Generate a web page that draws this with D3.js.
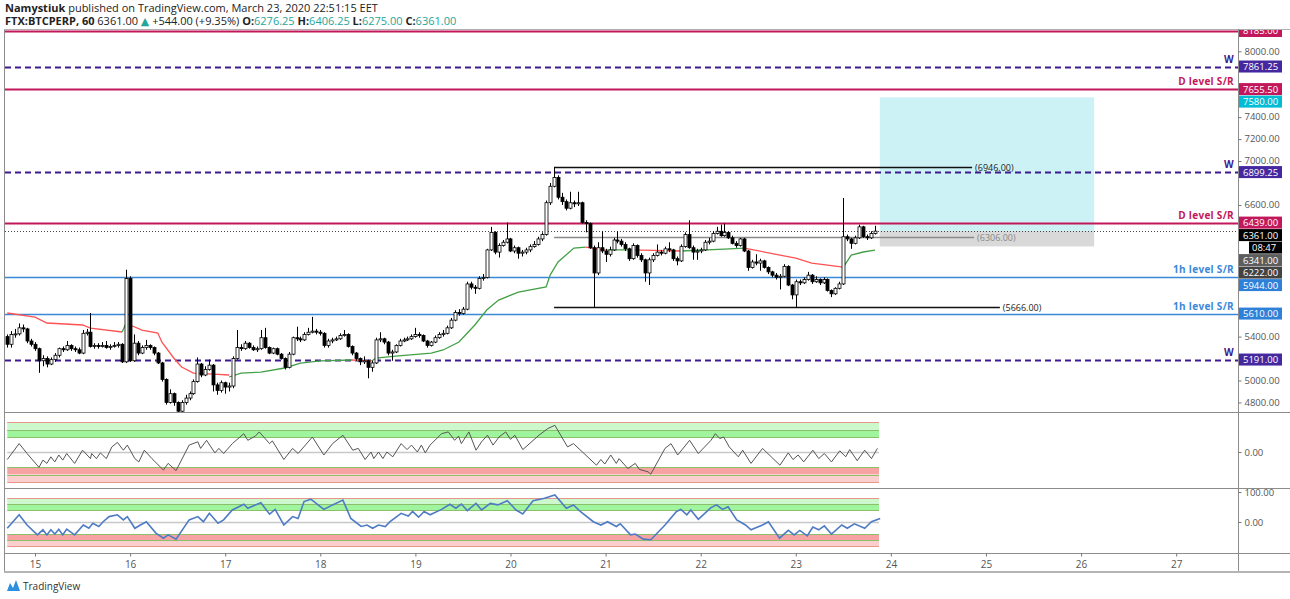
<!DOCTYPE html>
<html>
<head>
<meta charset="utf-8">
<script src="https://cdn.jsdelivr.net/npm/d3@7"></script>
<style>
  body { margin: 0; background: #fff; }
  text { font-family: "Open Sans", "DejaVu Sans", sans-serif; }
</style>
</head>
<body>
<div id="chart"></div>
<script>
// Hourly candles, FTX:BTCPERP, first bar Mar 14 17:00 (hour -7 relative to Mar 15 00:00)
const firstHour = -7
const firstOpen = 5400
const closes = [
  5330,5420,5425,5480,5470,5360,5330,
  5290,5180,5200,5150,5190,5230,5290,5280,5320,5290,
  5280,5250,5430,5440,5310,5320,5310,5320,5300,5310,
  5320,5330,5170,5930,5180,5340,5250,5300,5320,5300,
  5250,5160,5010,4800,4880,4800,4720,4800,4840,4880,
  4990,5150,5050,5100,5140,4960,4910,4980,4940,4950,
  5200,5300,5290,5340,5300,5280,5290,5390,5300,5250,
  5290,5240,5200,5120,5240,5390,5380,5370,5420,5440,
  5450,5440,5430,5320,5360,5370,5380,5410,5420,5310,
  5250,5200,5170,5180,5120,5160,5370,5380,5350,5250,
  5260,5320,5360,5370,5380,5400,5420,5410,5360,5320,
  5350,5390,5420,5430,5480,5550,5620,5610,5650,5880,
  5850,5840,5930,5940,6190,6350,6170,6230,6260,6290,
  6180,6210,6160,6170,6190,6220,6240,6290,6330,6620,
  6770,6850,6670,6630,6570,6620,6610,6620,6440,6430,
  6210,5980,6210,6180,6150,6190,6280,6270,6240,6200,
  6110,6230,6140,6100,5980,6100,6140,6170,6160,6200,
  6190,6110,6090,6220,6330,6210,6170,6180,6190,6260,
  6270,6340,6360,6320,6350,6300,6250,6230,6290,6180,
  6030,6080,6070,6090,6030,5990,5960,5940,5950,6040,
  5870,5780,5900,5890,5920,5960,5900,5920,5890,5920,
  5820,5790,5840,5880,6310,6290,6250,6300,6400,6310,
  6300,6340,6361
]
const highs = [
  5420,5450,5470,5520,5510,5480,5380,
  5350,5300,5230,5220,5210,5250,5300,5310,5360,5330,
  5310,5300,5460,5470,5615,5340,5340,5350,5360,5330,
  5350,5350,5340,6010,5950,5420,5360,5320,5370,5330,
  5310,5260,5170,5020,4920,4890,4810,4820,4870,4900,
  5010,5210,5160,5130,5190,5150,4980,5000,4990,4980,
  5220,5460,5330,5360,5350,5320,5310,5460,5480,5310,
  5300,5300,5250,5210,5260,5400,5490,5400,5440,5480,
  5580,5470,5460,5440,5380,5390,5400,5430,5460,5430,
  5320,5260,5210,5220,5190,5180,5390,5440,5390,5360,
  5280,5330,5380,5390,5400,5420,5480,5440,5420,5370,
  5360,5410,5440,5460,5500,5570,5640,5650,5670,5900,
  5900,5870,5950,5970,6200,6400,6360,6250,6280,6440,
  6300,6230,6220,6190,6210,6240,6270,6310,6350,6640,
  6800,6946,6870,6710,6650,6720,6640,6720,6630,6460,
  6440,6230,6260,6360,6200,6220,6300,6360,6290,6260,
  6210,6250,6240,6160,6110,6120,6160,6240,6190,6220,
  6260,6200,6130,6240,6350,6460,6230,6200,6210,6280,
  6300,6360,6400,6420,6430,6360,6320,6270,6300,6300,
  6190,6100,6150,6110,6100,6040,6000,5980,5970,6060,
  6050,5880,5920,5920,5940,5990,5970,5950,5930,5940,
  5930,5830,5850,5900,6663,6330,6300,6320,6420,6410,
  6330,6360,6410
]
const lows = [
  5300,5300,5390,5410,5440,5340,5310,
  5270,5070,5130,5120,5140,5170,5210,5260,5270,5270,
  5260,5240,5240,5410,5300,5290,5290,5300,5290,5280,
  5300,5300,5160,5160,5170,5170,5230,5240,5280,5280,
  5230,5150,4990,4780,4790,4770,4690,4700,4780,4820,
  4870,4980,5030,5040,5090,4900,4870,4890,4880,4900,
  4930,5190,5270,5280,5290,5270,5260,5280,5290,5240,
  5240,5230,5190,5100,5110,5230,5360,5350,5360,5410,
  5430,5420,5410,5300,5300,5340,5360,5370,5400,5300,
  5230,5180,5140,5150,5020,5080,5150,5350,5330,5230,
  5180,5250,5310,5350,5360,5370,5390,5390,5350,5300,
  5310,5340,5380,5400,5420,5470,5540,5590,5600,5640,
  5830,5790,5830,5910,5930,6180,6150,6120,6220,6250,
  6170,6160,6110,6130,6150,6170,6210,6230,6270,6320,
  6600,6760,6650,6600,6550,6560,6580,6590,6430,6350,
  6200,5666,5960,6160,6080,6130,6180,6250,6220,6180,
  6090,6100,6120,6080,5900,5870,6080,6130,6140,6150,
  6170,6090,6050,6080,6210,6200,6100,6100,6160,6180,
  6240,6260,6330,6310,6310,6290,6240,6210,6220,6170,
  6000,6020,6050,6000,6020,5970,5940,5920,5830,5940,
  5860,5740,5666,5870,5880,5910,5880,5890,5870,5880,
  5810,5760,5780,5830,5870,6270,6200,6240,6290,6300,
  6280,6290,6330
]

// Trailing stop line, [hour, price] vertices
const stRedSegs = [
  [[-7,5615],[0,5578],[3,5524],[12,5506],[14,5478],[22,5442]],
  [[24,5506],[27,5460],[31,5432],[32,5351],[35,5205],[37,5123],[40,5068],[45,5059],[49,5050]],
  [[80,5187],[85,5178]],
  [[139,6216],[142,6198],[144,6189]],
  [[150,6190],[156,6185],[163,6180]],
  [[179,6207],[188,6143],[192,6116],[196,6070],[204,6034]]
]
const stGreenSegs = [
  [[22,5442],[23,5524]],
  [[49,5032],[52,5068],[57,5077],[63,5114],[67,5159],[72,5178],[80,5187]],
  [[85,5178],[86,5205],[91,5223],[97,5241],[100,5250],[103,5278],[107,5351],[111,5506],[114,5642],[117,5733],[122,5806],[129,5852],[130,5961],[132,6080],[136,6207],[139,6216]],
  [[144,6189],[146,6190],[150,6190]],
  [[163,6180],[174,6198],[179,6207]],
  [[204,6034],[206,6143],[209,6171],[212,6189]]
]

// Oscillator 1 (grey) and oscillator 2 (blue), [hour, value]
const osc1Pts = [
  [-7,-25],[-4,28],[-2,-5],[1,-51],[2,-27],[3,-38],[4,-16],[5,-33],[6,-10],[7,-27],[8,-5],[10,-38],
  [12,6],[14,-22],[14.3,-5],[15.5,-22],[16.5,-3],[18,-22],[19.4,17],[20.8,32],[22.3,6],[23.3,23],
  [25.2,-22],[26.2,-33],[27.6,6],[29.5,-22],[32.4,-60],[33.6,-38],[35.6,-62],[38.9,23],[41.1,34],
  [41.8,12],[43.3,39],[45.4,-3],[46.4,12],[47.6,-5],[49.8,28],[52.7,61],[53.7,39],[55.6,53],
  [56.6,67],[59.2,28],[59.9,37],[62.8,-25],[65,12],[66.4,-5],[70,50],[72.9,-10],[75.1,28],[77.7,56],
  [80.2,6],[81.6,12],[83.3,-25],[84.8,0],[85.5,-22],[86.7,0],[87.8,-22],[88.8,0],[90.3,-16],
  [92.4,28],[93.9,8],[95,23],[96.5,0],[97.5,23],[98.5,-3],[99.7,23],[102.6,61],[104.3,67],[105.9,39],
  [106.9,53],[107.6,28],[109.5,67],[111.3,6],[112.7,34],[114.2,56],[115.6,23],[117.1,50],[118.8,67],
  [120,42],[121.1,56],[123.1,8],[127.2,56],[129.4,78],[131.2,89],[134.4,17],[135.9,28],[141.7,-44],
  [142.8,-25],[143.8,-40],[145.3,-10],[146.7,-38],[147.4,-22],[149.6,-55],[151.5,-38],[152.5,-58],
  [154.7,-66],[155.4,-74],[159,12],[160.5,28],[162.2,-10],[165.2,39],[167.4,-5],[170.6,39],[171.7,61],
  [172.8,45],[173.8,50],[175.2,17],[177.5,-16],[178.6,6],[180.7,-38],[183.6,12],[185.8,-16],
  [188,-44],[190.1,-3],[191.3,-25],[192.6,-10],[194,-33],[196.3,6],[197.8,-22],[199.2,-5],[201,-33],
  [203.1,4],[204.6,-16],[205.6,8],[207.5,-29],[209.4,6],[211.1,-22],[212.6,12]
]
const osc2Pts = [
  [-7,-21],[-4,24],[-2,-10],[0.6,-43],[2,-26],[3,-43],[4,-26],[5,-40],[6,-24],[7,-43],[8,-24],[10,-43],
  [12.2,-10],[13.6,-21],[14.6,-4],[16.1,-15],[17.2,1],[18.7,18],[20.8,24],[22.3,7],[23.3,18],[25.2,-21],
  [26.6,-10],[28.1,1],[30.5,-37],[32.4,-54],[33.6,-43],[35.6,-57],[38.9,7],[41.1,18],[42.5,1],[44,29],
  [46.2,-4],[47.6,7],[49.8,40],[52.7,59],[53.7,46],[55.6,57],[57,64],[59.2,26],[60.6,42],[62.8,-10],
  [65,18],[66.4,12],[67.9,68],[69.6,76],[72.9,42],[75.1,57],[77.7,73],[79.7,12],[82.3,-15],[83.8,-10],
  [85.2,-21],[86.7,-10],[88.4,-15],[89.6,1],[92.4,29],[94.2,20],[95.3,35],[96.8,16],[98.2,35],
  [99.7,24],[102.6,42],[104.7,59],[106.2,46],[107.6,60],[109.1,38],[111.3,62],[112.7,40],[114.9,62],
  [116.8,57],[119.2,71],[121.4,40],[123.1,27],[125.7,71],[128.6,79],[131.2,90],[134.1,46],[135.9,57],
  [137.6,35],[140.9,1],[142.8,-10],[144.5,1],[146.7,-15],[147.7,-6],[150.3,-43],[151.5,-40],[153.5,-57],
  [155.4,-59],[159,-10],[161.9,35],[163,42],[164.5,24],[165.5,40],[167.4,9],[170.6,48],[172,57],
  [173.5,42],[174.9,51],[177.1,7],[179.3,-10],[180.7,-26],[183.6,-10],[185.1,1],[187.9,-54],[190.1,-28],
  [191.6,-43],[193,-28],[194.9,-46],[196.3,-17],[197.8,-26],[199.2,-13],[201,-40],[203.6,-10],
  [205,-21],[206.8,-6],[209.4,-21],[211.1,1],[213.3,12]
]
const osc1Levels = [50, 75, 100]
const osc2Levels = [40, 60, 80]

// Drawn horizontal levels
const levelPrices = [8185, 7861.25, 7655.5, 6899.25, 6439, 5944, 5610, 5191]
const levelKinds  = ['D', 'W', 'D', 'W', 'D', 'H', 'H', 'W']
const levelTexts  = {D: 'D level S/R', W: 'W', H: '1h level S/R'}

// Range markers and position tool
const rangeHigh = 6946
const rangeLow = 5666
const rangeMid = 6306
const rangeStartHour = 131
const rangeHighEnd = 236.5
const rangeLowEnd = 243.5
const rangeMidEnd = 237
const posStartHour = 213.2
const posEndHour = 267.3
const posEntry = 6361
const posTarget = 7580
const posStop = 6222
const lastPrice = 6361
const timerText = '08:47'

// Right scale badges: value, colour (the 8th one is the bar countdown)
const badgeVals = [8185, 7861.25, 7655.5, 7580, 6899.25, 6439, 6361, 6361, 6341, 6222, 5944, 5610, 5191]
const badgeCols = ['#c2185b','#4527a0','#c2185b','#00bcd4','#4527a0','#c2185b','#000','#000','#5d5d5d','#434343','#2f80d8','#2f80d8','#4527a0']

const dayTicks = d3.range(15, 28)

const W = 1290, H = 599
const plotL = 5, plotR = 1238
const priceTop = 30, priceBot = 412
const p1Top = 413, p1Bot = 488
const p2Top = 489, p2Bot = 553
const T0 = Date.UTC(2020, 2, 15)
const hourDate = h => new Date(T0 + h * 36e5)

const colCrimson = '#c2185b'
const colPurple = '#3d1a8f'
const colBlue = '#3b88d8'
const axisFont = '9.5px'

const svg = d3.select('#chart').append('svg')
  .attr('width', W).attr('height', H)
  .style('display', 'block')

svg.append('rect').attr('width', W).attr('height', H).attr('fill', '#fff')

// Scales
const xScale = d3.scaleUtc()
  .domain([hourDate(-7.571), hourDate(303.6)])
  .range([plotL, plotR])
const yPrice = d3.scaleLinear().domain([4713, 8194]).range([priceBot, priceTop])
const yOsc1 = d3.scaleLinear().domain([-100, 100]).range([482, 422])
const yOsc2 = d3.scaleLinear().domain([-100, 100]).range([552, 492])
const xh = h => xScale(hourDate(h))

// Clip paths
const defs = svg.append('defs')
defs.append('clipPath').attr('id', 'clipPrice').append('rect')
  .attr('x', plotL).attr('y', priceTop).attr('width', plotR - plotL).attr('height', priceBot - priceTop)
defs.append('clipPath').attr('id', 'clipP1').append('rect')
  .attr('x', plotL).attr('y', p1Top).attr('width', plotR - plotL).attr('height', p1Bot - p1Top)
defs.append('clipPath').attr('id', 'clipP2').append('rect')
  .attr('x', plotL).attr('y', p2Top).attr('width', plotR - plotL).attr('height', p2Bot - p2Top)
defs.append('clipPath').attr('id', 'clipAxis').append('rect')
  .attr('x', plotR).attr('y', priceTop).attr('width', W - plotR).attr('height', p2Bot - priceTop)

// Header
const header = svg.append('g').style('font-size', '11px').attr('fill', '#222')
const h1 = header.append('text').attr('x', 5).attr('y', 12)
h1.append('tspan').attr('font-weight', 'bold').text('Namystiuk')
h1.append('tspan').text(' published on TradingView.com, March 23, 2020 22:51:15 EET')
const h2 = header.append('text').attr('x', 5).attr('y', 25)
const teal = '#26a69a'
h2.append('tspan').attr('font-weight', 'bold').text('FTX:BTCPERP, 60 ')
h2.append('tspan').text('6361.00 ')
h2.append('tspan').attr('fill', teal).text('▲')
h2.append('tspan').text(' +544.00 (+9.35%) ')
;[['O:', '6276.25'], ['H:', '6406.25'], ['L:', '6275.00'], ['C:', '6361.00']].forEach(([k, v], i) => {
  h2.append('tspan').attr('font-weight', 'bold').text((i ? ' ' : '') + k)
  h2.append('tspan').attr('fill', teal).text(v)
})

// ---------- Price pane ----------
const gPrice = svg.append('g').attr('clip-path', 'url(#clipPrice)')

// Position tool boxes
gPrice.append('rect')
  .attr('x', xh(posStartHour)).attr('width', xh(posEndHour) - xh(posStartHour))
  .attr('y', yPrice(posTarget)).attr('height', yPrice(posEntry) - yPrice(posTarget))
  .attr('fill', 'rgba(0,188,212,0.2)')
gPrice.append('rect')
  .attr('x', xh(posStartHour)).attr('width', xh(posEndHour) - xh(posStartHour))
  .attr('y', yPrice(posEntry)).attr('height', yPrice(posStop) - yPrice(posEntry))
  .attr('fill', 'rgba(120,120,120,0.28)')

// Horizontal levels
levelPrices.forEach((p, i) => {
  const k = levelKinds[i]
  const y = Math.round(yPrice(p)) + 0.5
  const line = gPrice.append('line')
    .attr('x1', plotL).attr('x2', plotR).attr('y1', y).attr('y2', y)
  if (k === 'W') {
    line.attr('stroke', colPurple).attr('stroke-width', 2).attr('stroke-dasharray', '6,4')
  } else if (k === 'D') {
    line.attr('stroke', colCrimson).attr('stroke-width', 2)
  } else {
    line.attr('stroke', colBlue).attr('stroke-width', 1.5)
  }
  if (p < 8100) {
    gPrice.append('text')
      .attr('x', plotR - 4).attr('y', y - 5)
      .attr('text-anchor', 'end')
      .style('font-size', '10px').style('font-weight', 'bold').style('letter-spacing', '0.3px')
      .attr('fill', k === 'W' ? colPurple : k === 'D' ? colCrimson : colBlue)
      .text(levelTexts[k])
  }
})

// Last price dotted line
gPrice.append('line')
  .attr('x1', plotL).attr('x2', plotR)
  .attr('y1', Math.round(yPrice(lastPrice)) + 0.5).attr('y2', Math.round(yPrice(lastPrice)) + 0.5)
  .attr('stroke', '#444').attr('stroke-dasharray', '1,2')

// Range lines
const rangeLines = [
  {v: rangeHigh, end: rangeHighEnd, col: '#111', w: 1.5},
  {v: rangeLow, end: rangeLowEnd, col: '#111', w: 1.5},
  {v: rangeMid, end: rangeMidEnd, col: '#8a8a8a', w: 1.5}
]
rangeLines.forEach(r => {
  const y = Math.round(yPrice(r.v)) + 0.5
  gPrice.append('line')
    .attr('x1', xh(rangeStartHour)).attr('x2', xh(r.end)).attr('y1', y).attr('y2', y)
    .attr('stroke', r.col).attr('stroke-width', r.w)
  gPrice.append('text')
    .attr('x', xh(r.end) + 3).attr('y', y + 3)
    .style('font-size', '9px')
    .attr('fill', r.col === '#111' ? '#222' : '#888')
    .text(`(${r.v.toFixed(2)})`)
})
gPrice.append('line')
  .attr('x1', Math.round(xh(rangeStartHour)) + 0.5).attr('x2', Math.round(xh(rangeStartHour)) + 0.5)
  .attr('y1', yPrice(rangeHigh)).attr('y2', yPrice(highs[rangeStartHour - firstHour]))
  .attr('stroke', '#111')

// Trailing stop
const stLine = d3.line().x(d => xh(d[0])).y(d => yPrice(d[1]))
gPrice.selectAll('.stRed').data(stRedSegs).join('path')
  .attr('class', 'stRed').attr('d', stLine)
  .attr('fill', 'none').attr('stroke', '#ff5252').attr('stroke-width', 1.3)
gPrice.selectAll('.stGreen').data(stGreenSegs).join('path')
  .attr('class', 'stGreen').attr('d', stLine)
  .attr('fill', 'none').attr('stroke', '#43a047').attr('stroke-width', 1.3)

// Candles
const candles = closes.map((c, i) => ({
  h: firstHour + i,
  o: i ? closes[i - 1] : firstOpen,
  hi: highs[i], lo: lows[i], c: c
}))
const gC = gPrice.selectAll('.candle').data(candles).join('g').attr('class', 'candle')
gC.append('line')
  .attr('x1', d => Math.round(xh(d.h)) + 0.5).attr('x2', d => Math.round(xh(d.h)) + 0.5)
  .attr('y1', d => yPrice(d.hi)).attr('y2', d => yPrice(d.lo))
  .attr('stroke', '#000')
gC.append('rect')
  .attr('x', d => Math.round(xh(d.h)) - 1)
  .attr('width', 3)
  .attr('y', d => yPrice(Math.max(d.o, d.c)))
  .attr('height', d => Math.max(1, Math.abs(yPrice(d.o) - yPrice(d.c))))
  .attr('fill', d => d.c >= d.o ? '#fff' : '#000')
  .attr('stroke', '#000').attr('stroke-width', 0.8)

// ---------- Oscillator panes ----------
function drawOsc(clipId, yS, levels, pts, lineCol, lineW) {
  const g = svg.append('g').attr('clip-path', `url(#${clipId})`)
  const x0 = xh(firstHour), x1 = xh(firstHour + closes.length)
  const bands = [
    {a: levels[0], b: levels[1], f: '#9ef59e'},
    {a: levels[1], b: levels[2], f: '#cdf7cd'},
    {a: -levels[0], b: -levels[1], f: '#f8a3a3'},
    {a: -levels[1], b: -levels[2], f: '#fccfcf'}
  ]
  g.selectAll('.band').data(bands).join('rect').attr('class', 'band')
    .attr('x', x0).attr('width', x1 - x0)
    .attr('y', d => Math.min(yS(d.a), yS(d.b)))
    .attr('height', d => Math.abs(yS(d.a) - yS(d.b)))
    .attr('fill', d => d.f)
  const lvl = [levels[2], levels[1], levels[0], -levels[0], -levels[1], -levels[2]]
  g.selectAll('.lvl').data(lvl).join('line').attr('class', 'lvl')
    .attr('x1', x0).attr('x2', x1)
    .attr('y1', d => Math.round(yS(d)) + 0.5).attr('y2', d => Math.round(yS(d)) + 0.5)
    .attr('stroke', d => Math.abs(d) === levels[2] ? '#e8968c' : '#8cbf6a')
  g.append('line')
    .attr('x1', x0).attr('x2', x1)
    .attr('y1', Math.round(yS(0)) + 0.5).attr('y2', Math.round(yS(0)) + 0.5)
    .attr('stroke', '#c8c8c8').attr('stroke-width', 1.5)
  g.append('path')
    .attr('d', d3.line().x(d => xh(d[0])).y(d => yS(d[1]))(pts))
    .attr('fill', 'none').attr('stroke', lineCol).attr('stroke-width', lineW)
}
drawOsc('clipP1', yOsc1, osc1Levels, osc1Pts, '#555', 1)
drawOsc('clipP2', yOsc2, osc2Levels, osc2Pts, '#4f7bc4', 1.6)

// ---------- Frame ----------
const frame = svg.append('g').attr('stroke', '#8c8c8c').attr('fill', 'none')
frame.append('line').attr('x1', 4.5).attr('x2', 4.5).attr('y1', 29).attr('y2', 572)
frame.append('line').attr('x1', 4).attr('x2', W).attr('y1', 29.5).attr('y2', 29.5).attr('stroke', '#b0b0b0')
frame.append('line').attr('x1', plotR + 0.5).attr('x2', plotR + 0.5).attr('y1', 29).attr('y2', 572)
;[p1Top - 0.5, p2Top - 0.5, p2Bot + 0.5].forEach(y => {
  frame.append('line').attr('x1', 4).attr('x2', W).attr('y1', y).attr('y2', y)
})
frame.append('line').attr('x1', 4).attr('x2', W).attr('y1', 572).attr('y2', 572)
  .attr('stroke', '#b4b4b4').attr('stroke-width', 2)

// ---------- Right price axis ----------
const gAxis = svg.append('g').attr('clip-path', 'url(#clipAxis)')

// Badge positions, stacked so they do not overlap
let prevY = -Infinity
const badgeYs = badgeVals.map(v => {
  prevY = Math.max(yPrice(v), prevY + 12.5)
  return prevY
})

// Tick values hidden behind a badge are left out
const priceTicks = d3.range(4800, 8001, 200)
  .filter(v => badgeYs.every(by => Math.abs(by - yPrice(v)) > 11))
const priceAxis = gAxis.append('g')
  .attr('transform', `translate(${plotR + 0.5},0)`)
  .call(d3.axisRight(yPrice).tickValues(priceTicks).tickSize(3).tickFormat(d3.format('.2f')))
priceAxis.select('.domain').remove()
priceAxis.selectAll('line').attr('stroke', '#777')
priceAxis.selectAll('text').attr('x', 6).attr('dy', '0.3em').attr('fill', '#555').style('font-size', axisFont)
  .style('font-family', '"Open Sans", sans-serif')

const osc1Axis = gAxis.append('g')
  .attr('transform', `translate(${plotR + 0.5},0)`)
  .call(d3.axisRight(yOsc1).tickValues([0]).tickSize(3).tickFormat(d3.format('.2f')))
const osc2Axis = gAxis.append('g')
  .attr('transform', `translate(${plotR + 0.5},0)`)
  .call(d3.axisRight(yOsc2).tickValues([0, 100]).tickSize(3).tickFormat(d3.format('.2f')))
;[osc1Axis, osc2Axis].forEach(a => {
  a.select('.domain').remove()
  a.selectAll('line').attr('stroke', '#777')
  a.selectAll('text').attr('x', 6).attr('fill', '#555').style('font-size', axisFont)
    .style('font-family', '"Open Sans", sans-serif')
})

badgeVals.forEach((v, i) => {
  const cy = badgeYs[i]
  const isTimer = i === 7
  const bx = isTimer ? plotR + 11 : plotR + 1
  gAxis.append('rect')
    .attr('x', bx).attr('y', cy - 6).attr('width', plotR + 44 - bx).attr('height', 12)
    .attr('fill', badgeCols[i])
  gAxis.append('text')
    .attr('x', bx + (isTimer ? 3 : 4)).attr('y', cy + 3.5)
    .attr('fill', '#fff').style('font-size', axisFont)
    .text(isTimer ? timerText : v.toFixed(2))
})

// ---------- Time axis ----------
const timeAxis = svg.append('g')
  .attr('transform', `translate(0,${p2Bot + 0.5})`)
  .call(d3.axisBottom(xScale)
    .tickValues(dayTicks.map(d => new Date(Date.UTC(2020, 2, d))))
    .tickSize(3)
    .tickFormat(d3.utcFormat('%-d')))
timeAxis.select('.domain').remove()
timeAxis.selectAll('line').attr('stroke', '#777')
timeAxis.selectAll('text').attr('y', 7).attr('fill', '#555').style('font-size', '10px')
  .style('font-family', '"Open Sans", sans-serif')

// ---------- Footer logo ----------
const logo = svg.append('g').attr('transform', 'translate(7,580)')
logo.append('path')
  .attr('d', 'M0,11 L3,3 L6,8 L9,0 L13,11 Z')
  .attr('fill', '#2d8fe0')
logo.append('text').attr('x', 16).attr('y', 10)
  .style('font-size', '10px').attr('fill', '#333').text('TradingView')
</script>
</body>
</html>
